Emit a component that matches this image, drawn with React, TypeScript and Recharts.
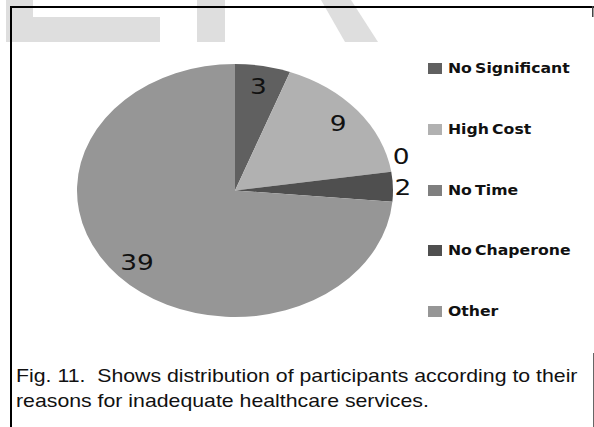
import React from 'react';
import { PieChart, Pie, Cell, Legend } from 'recharts';

// Reasons for inadequate healthcare services and number of participants
const reasons = ['No Significant', 'High Cost', 'No Time', 'No Chaperone', 'Other'];
const counts = [3, 9, 0, 2, 39];
const shades = ['#606060', '#b1b1b1', '#7f7f7f', '#4f4f4f', '#969696'];

const captionLines = [
  'Fig. 11.  Shows distribution of participants according to their',
  'reasons for inadequate healthcare services.',
];

const rows = reasons.map((name, i) => ({ name, value: counts[i] }));
const total = counts.reduce((a, b) => a + b, 0);

const START = 90;
const END = -270;
const Y_RATIO = 126.5 / 158; // the pie is drawn as a flattened ellipse
const RAD = Math.PI / 180;
const OUTSIDE_SHARE = 0.05; // slices smaller than this get their label outside
const OUTSIDE_GAP = 31;

const midAngleOf = (i: number) => {
  const before = counts.slice(0, i).reduce((a, b) => a + b, 0);
  return START + ((END - START) * (before + counts[i] / 2)) / total;
};

function EllipseSector(props: any) {
  const { cx, cy, outerRadius, startAngle, endAngle, fill } = props;
  if (Math.abs(endAngle - startAngle) < 1e-6) return <g />;
  const rx = outerRadius;
  const ry = outerRadius * Y_RATIO;
  const pt = (a: number) => [cx + rx * Math.cos(a * RAD), cy - ry * Math.sin(a * RAD)];
  const [x1, y1] = pt(startAngle);
  const [x2, y2] = pt(endAngle);
  const large = Math.abs(endAngle - startAngle) > 180 ? 1 : 0;
  const sweep = startAngle > endAngle ? 1 : 0;
  return (
    <path
      d={`M${cx},${cy}L${x1},${y1}A${rx},${ry} 0 ${large} ${sweep} ${x2},${y2}Z`}
      fill={fill}
      stroke="none"
    />
  );
}

const edgeY = (cy: number, r: number, angle: number) => cy - r * Y_RATIO * Math.sin(angle * RAD);

function renderLabel(props: any) {
  const { cx, cy, midAngle, outerRadius, value, index } = props;
  const rx = outerRadius;
  const ry = outerRadius * Y_RATIO;
  const c = Math.cos(midAngle * RAD);
  const s = Math.sin(midAngle * RAD);
  const textStyle = { fontFamily: 'DejaVu Sans', fontSize: 22, fill: '#111' };
  if (value / total >= OUTSIDE_SHARE) {
    const x = cx + 0.84 * rx * c;
    const y = cy - 0.84 * ry * s;
    return (
      <text transform={`translate(${x},${y}) scale(1.2,1)`} textAnchor="middle" dy="0.36em" style={textStyle}>
        {value}
      </text>
    );
  }
  // outside labels stack upward so they do not collide with the next small slice
  let y = edgeY(cy, outerRadius, midAngle);
  let nextY: number | null = null;
  for (let j = index + 1; j < counts.length; j++) {
    if (counts[j] / total < OUTSIDE_SHARE) {
      nextY = edgeY(cy, outerRadius, midAngleOf(j));
      break;
    }
  }
  if (nextY !== null && nextY - y < OUTSIDE_GAP) y = nextY - OUTSIDE_GAP;
  const x = cx + rx * c + 1.5;
  return (
    <text transform={`translate(${x},${y}) scale(1.2,1)`} textAnchor="start" dy="0.36em" style={textStyle}>
      {value}
    </text>
  );
}

function LegendList(props: any) {
  const payload = [...(props.payload || [])].sort(
    (a: any, b: any) => reasons.indexOf(a.value) - reasons.indexOf(b.value)
  );
  return (
    <div style={{ position: 'relative' }}>
      {payload.map((p: any, i: number) => (
        <div key={p.value} style={{ position: 'absolute', left: 0, top: i * 60.75, width: 160, height: 11 }}>
          <div
            style={{
              position: 'absolute',
              left: 0,
              top: 0,
              width: 14,
              height: 11,
              background: shades[reasons.indexOf(p.value)] || p.color,
            }}
          />
          <div
            style={{
              position: 'absolute',
              left: 20,
              top: -2,
              fontFamily: 'DejaVu Sans',
              fontWeight: 700,
              fontSize: 14,
              lineHeight: '14px',
              color: '#111',
              whiteSpace: 'nowrap',
              transform: 'scaleX(1.12)',
              transformOrigin: 'left top',
              wordSpacing: -2,
            }}
          >
            {p.value}
          </div>
        </div>
      ))}
    </div>
  );
}

export default function App() {
  return (
    <div style={{ position: 'absolute', left: 0, top: 0, width: 594, height: 427, background: '#fff', overflow: 'hidden' }}>
      <svg width={594} height={427} style={{ position: 'absolute', left: 0, top: 0 }}>
        <g fill="#dedede">
          <rect x={6} y={0} width={27} height={42} />
          <rect x={33} y={17} width={127} height={25} />
          <rect x={197} y={0} width={28} height={42} />
          <polygon points="321,0 351,0 378,42 345,42" />
        </g>
      </svg>
      <div style={{ position: 'absolute', left: 0, top: 0 }}>
        <PieChart width={594} height={340} margin={{ top: 0, right: 0, bottom: 0, left: 0 }}>
          <Pie
            data={rows}
            dataKey="value"
            nameKey="name"
            cx={235}
            cy={190.5}
            outerRadius={158}
            startAngle={START}
            endAngle={END}
            stroke="none"
            labelLine={false}
            label={renderLabel}
            shape={EllipseSector}
            activeShape={EllipseSector}
            inactiveShape={EllipseSector}
            isAnimationActive={false}
          >
            {rows.map((r, i) => (
              <Cell key={r.name} fill={shades[i]} />
            ))}
          </Pie>
          <Legend
            content={<LegendList />}
            wrapperStyle={{ position: 'absolute', left: 428, top: 63, width: 160, height: 260, margin: 0 }}
          />
        </PieChart>
      </div>
      <svg width={594} height={427} style={{ position: 'absolute', left: 0, top: 0, pointerEvents: 'none' }}>
        <rect x={10} y={6} width={584} height={2} fill="#000" />
        <rect x={10} y={6} width={2} height={421} fill="#000" />
        <rect x={592} y={6} width={1.5} height={11} fill="#444" />
        <rect x={593} y={353} width={1} height={74} fill="#666" />
      </svg>
      {captionLines.map((line, i) => (
        <div
          key={i}
          style={{
            position: 'absolute',
            left: 16,
            top: 365.5 + i * 25,
            fontFamily: 'Liberation Sans, Arial',
            fontSize: 19,
            lineHeight: '19px',
            color: '#111',
            whiteSpace: 'pre',
            transform: 'scaleX(1.12)',
            transformOrigin: 'left top',
          }}
        >
          {line}
        </div>
      ))}
    </div>
  );
}
